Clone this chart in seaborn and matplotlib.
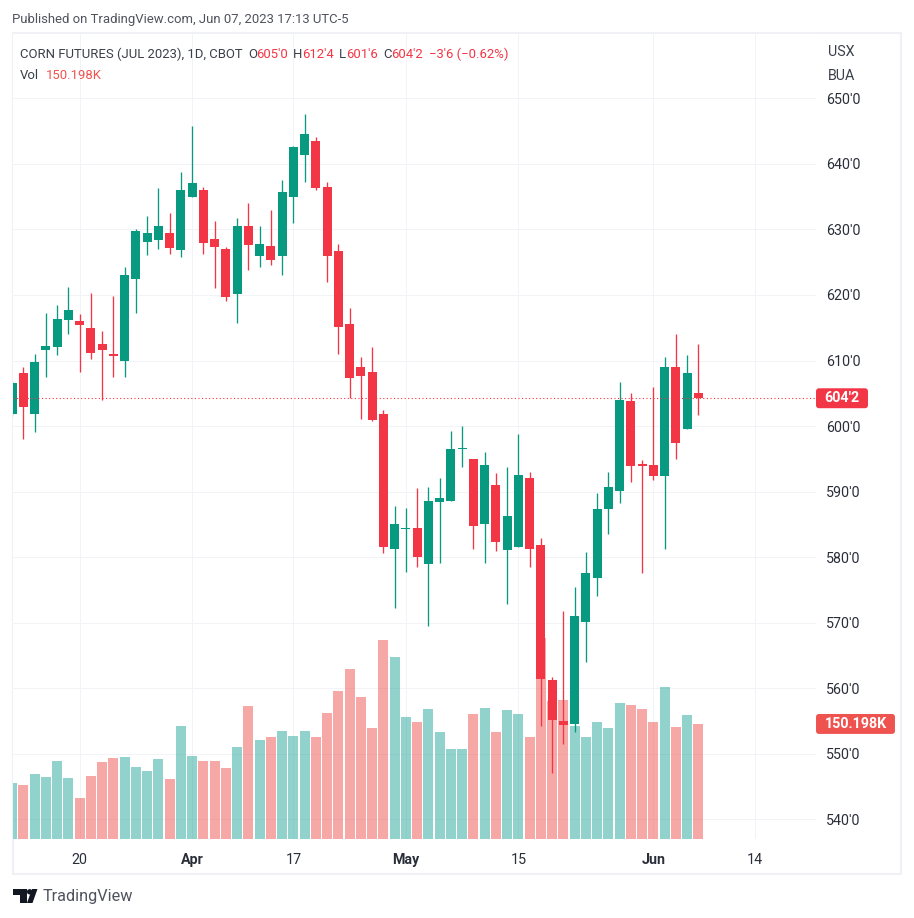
import numpy as np
import pandas as pd
import matplotlib
matplotlib.use("Agg")
import matplotlib.pyplot as plt
from matplotlib.patches import FancyBboxPatch, Rectangle, Polygon, Circle
from matplotlib.transforms import IdentityTransform
import seaborn as sns

# --------------------------
# 1. Values
# --------------------------
opens = [601.88, 608.13, 601.88, 611.64, 612.09, 616.21, 616.06, 614.99, 612.55, 611.03, 609.96,
         622.46, 628.10, 628.40, 629.47, 626.88, 634.96, 636.03, 628.56, 627.03, 620.17, 630.54,
         625.97, 627.49, 625.97, 634.96, 641.36, 643.50, 636.48, 626.73, 615.60, 609.04, 608.28,
         601.88, 581.19, 584.38, 584.53, 578.90, 588.49, 588.64, 596.45, 595.03, 585.14, 591.08,
         581.03, 581.49, 592.14, 581.80, 561.32, 555.08, 554.62, 570.15, 576.85, 587.39, 590.14,
         603.86, 594.26, 594.10, 592.43, 609.05, 599.59, 605.00]
highs = [606.90, 609.04, 611.03, 617.28, 618.50, 621.24, 617.12, 620.33, 614.53, 619.87, 624.29,
         630.08, 632.06, 636.33, 632.52, 638.77, 645.78, 636.48, 631.30, 627.34, 631.76, 634.04,
         630.54, 632.98, 637.55, 642.73, 647.61, 644.11, 637.25, 627.79, 618.04, 610.57, 612.10,
         602.48, 587.88, 587.58, 590.62, 590.77, 592.14, 599.29, 600.05, 595.03, 596.10, 592.90,
         593.81, 598.83, 593.05, 582.86, 561.78, 571.83, 575.48, 580.81, 589.83, 593.04, 606.76,
         605.08, 594.87, 606.00, 610.57, 614.08, 610.88, 612.50]
lows = [601.50, 598.07, 599.14, 607.52, 610.87, 614.08, 608.28, 610.26, 604.01, 607.52, 607.52,
        617.28, 626.12, 627.03, 626.27, 625.81, 634.96, 626.27, 621.09, 619.11, 615.75, 623.83,
        624.29, 624.59, 623.07, 631.00, 637.25, 636.03, 622.00, 611.03, 604.30, 601.12, 600.81,
        580.58, 572.21, 577.69, 578.45, 569.47, 579.06, 588.64, 593.81, 581.19, 579.06, 580.88,
        572.82, 581.49, 578.45, 554.31, 547.16, 551.57, 553.40, 564.06, 574.11, 583.58, 588.31,
        591.51, 577.63, 591.82, 581.29, 595.02, 599.59, 601.75]
closes = [606.60, 602.95, 609.81, 612.25, 616.36, 617.73, 615.45, 611.18, 611.64, 610.72, 623.07,
          629.78, 629.47, 630.54, 627.18, 636.03, 637.09, 627.95, 627.34, 619.72, 630.54, 627.64,
          627.79, 625.36, 635.72, 642.58, 644.56, 636.33, 625.97, 615.14, 607.37, 607.67, 600.96,
          581.49, 585.14, 584.53, 579.97, 588.64, 589.10, 596.55, 596.55, 584.69, 594.12, 582.25,
          586.36, 592.60, 581.19, 561.47, 555.23, 554.47, 571.07, 577.61, 587.39, 590.75, 604.02,
          593.95, 593.95, 592.43, 609.05, 597.46, 608.13, 604.25]
volumes = [73.1, 70.5, 84.9, 81.0, 101.9, 79.7, 53.5, 82.3, 100.6, 105.8, 107.1, 94.0, 88.8, 104.5,
           78.4, 147.6, 108.4, 101.9, 101.9, 92.7, 120.1, 173.7, 129.3, 133.2, 141.0, 134.5, 141.0,
           133.2, 164.5, 193.3, 222.0, 185.4, 145.0, 259.9, 237.7, 159.3, 152.8, 169.8, 139.7, 117.5,
           117.5, 163.2, 171.1, 139.7, 168.5, 163.2, 133.2, 262.5, 180.2, 181.5, 147.6, 133.2, 152.8,
           145.0, 177.6, 175.0, 169.8, 152.8, 198.5, 146.3, 161.9, 150.198]
x_ticks = [6, 16, 25, 35, 45, 57, 66]
x_labels = ["20", "Apr", "17", "May", "15", "Jun", "14"]
bold_labels = ["Apr", "May", "Jun"]
price_ticks = [540, 550, 560, 570, 580, 590, 600, 610, 620, 630, 640, 650]
last_price = 604.25
last_volume = 150.198

UP = "#089981"
DOWN = "#f23645"
VOL_UP = "#26a69a"
VOL_DOWN = "#ef5350"
GRID = "#f2f3f6"
FRAME = "#f0f1f7"
TEXT = "#2a2e39"
LEGEND_TEXT = "#3b3f4a"
FONT = "Roboto"

df = pd.DataFrame({"open": opens, "high": highs, "low": lows, "close": closes, "volume": volumes})
df["bar"] = np.arange(len(df))
df["side"] = np.where(df["close"] >= df["open"], "up", "down")

# --------------------------
# 2. Figure and axes, all in reference pixels
# --------------------------
W, H = 914, 918
sns.set_theme(style="white")
plt.rcParams["font.family"] = [FONT, "DejaVu Sans"]

fig = plt.figure(figsize=(W / 100, H / 100), dpi=100, facecolor="white")
rect = [13 / W, 1 - 839 / H, 803 / W, 805 / H]
xlim = (0.08, 71.46)
ylim = (537.02, 659.81)

# three layers: grid and labels, then volume, then candles
ax = fig.add_axes(rect, zorder=1)
ax_vol = fig.add_axes(rect, zorder=2, facecolor="none")
ax_price = fig.add_axes(rect, zorder=3, facecolor="none")
ax.set_xlim(*xlim)
ax.set_ylim(*ylim)
for s in ax.spines.values():
    s.set_visible(False)

# chart frame
fig.add_artist(Rectangle((12.5, H - 874), 888.5, 841, transform=IdentityTransform(),
                         fc="none", ec=FRAME, lw=1.5, zorder=0))

# gridlines
ax.set_xticks(x_ticks)
ax.set_xticklabels(x_labels)
ax.set_yticks(price_ticks)
ax.set_yticklabels([f"{p}'0" for p in price_ticks])
ax.yaxis.tick_right()
ax.grid(True, color=GRID, lw=0.72, zorder=0)
ax.set_axisbelow(True)
ax.tick_params(axis="x", length=0, pad=9.8, labelsize=10.3, colors=TEXT)
ax.tick_params(axis="y", length=0, pad=7.5, labelsize=10.3, colors=TEXT)
for lab in ax.get_xticklabels():
    if lab.get_text() in bold_labels:
        lab.set_fontweight("bold")

# --------------------------
# 3. Volume and candles
# --------------------------
sns.barplot(data=df, x="bar", y="volume", hue="side", ax=ax_vol, native_scale=True,
            palette={"up": VOL_UP, "down": VOL_DOWN}, dodge=False, width=0.89,
            saturation=1, alpha=0.5, legend=False, linewidth=0, errorbar=None)
ax_vol.set_xlim(*xlim)
ax_vol.set_ylim(0, 1051)
ax_vol.axis("off")

ax_price.set_xlim(*xlim)
ax_price.set_ylim(*ylim)
ax_price.axis("off")
colors = df["side"].map({"up": UP, "down": DOWN})
ax_price.vlines(df["bar"], df["low"], df["high"], colors=colors, lw=0.95, zorder=3)
body_low = df[["open", "close"]].min(axis=1)
body_high = df[["open", "close"]].max(axis=1)
ax_price.bar(df["bar"], (body_high - body_low).clip(lower=0.15), bottom=body_low, width=0.8,
             color=colors, linewidth=0, zorder=4)

# last price line
ax_price.axhline(last_price, color=DOWN, lw=0.8, ls=(0, (1, 2.2)), zorder=5)


# --------------------------
# 4. Text and axis tags
# --------------------------
def px_text(x, y, s, color=LEGEND_TEXT, size=9.45, **kw):
    fig.text(x / W, 1 - y / H, s, color=color, fontsize=size, va="center", **kw)


def axis_tag(y_px, s, color, width):
    fig.add_artist(FancyBboxPatch((817, H - y_px - 9), width - 2, 18,
                                  boxstyle="round,pad=0,rounding_size=2",
                                  transform=IdentityTransform(), fc=color, ec=color, lw=1.4, zorder=6))
    fig.text((816 + width / 2) / W, 1 - y_px / H, s, color="white", fontsize=10.3,
             fontweight="bold", ha="center", va="center", zorder=7)


fig.canvas.draw()
price_y = H - ax_price.transData.transform((0, last_price))[1]
vol_y = H - ax_vol.transData.transform((0, last_volume))[1]
axis_tag(price_y, "604'2", DOWN, 52)
axis_tag(vol_y, "150.198K", VOL_DOWN, 79)

px_text(12, 20, "Published on TradingView.com, Jun 07, 2023 17:13 UTC-5", color="#50535e")
px_text(20, 54.5, "CORN FUTURES (JUL 2023), 1D, CBOT")
for x, s, c in [(248, "O", LEGEND_TEXT), (256, "605'0", DOWN), (293, "H", LEGEND_TEXT), (302, "612'4", DOWN),
                (339, "L", LEGEND_TEXT), (346, "601'6", DOWN), (383, "C", LEGEND_TEXT), (391, "604'2", DOWN),
                (429, "\u22123'6 (\u22120.62%)", DOWN)]:
    px_text(x, 54.5, s, color=c)
px_text(20, 75.5, "Vol")
px_text(46, 75.5, "150.198K", color=VOL_DOWN)
px_text(828, 51.5, "USX", size=10.3)
px_text(828, 75.5, "BUA", size=10.3)

# TradingView logo
LOGO = "#131722"
fig.add_artist(Polygon([(13, H - 889), (26.5, H - 889), (26.5, H - 903), (20, H - 903), (20, H - 895), (13, H - 895)],
                       transform=IdentityTransform(), fc=LOGO, ec="none"))
fig.add_artist(Circle((29.6, H - 891.8), 2.7, transform=IdentityTransform(), fc=LOGO, ec="none"))
fig.add_artist(Polygon([(27, H - 903), (32, H - 889), (37.5, H - 889), (32.5, H - 903)],
                       transform=IdentityTransform(), fc=LOGO, ec="none"))
px_text(42.5, 896.5, "TradingView", color="#50535e", size=11.7)

fig.savefig("out.png", dpi=100)
